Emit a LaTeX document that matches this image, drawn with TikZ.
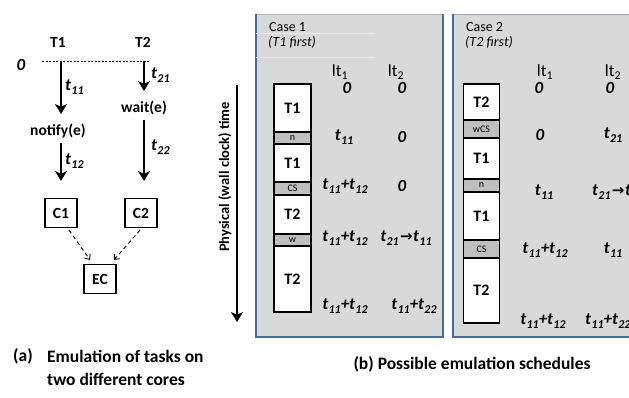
\documentclass[tikz,border=0pt]{standalone}
\usepackage{fontspec}
\setmainfont{Carlito}
\newfontfamily\djv{DejaVu Sans}
\usetikzlibrary{arrows.meta,calc}
\definecolor{panelfill}{HTML}{D9D9D9}
\definecolor{panelline}{HTML}{4A6A99}
\definecolor{seggray}{HTML}{BFBFBF}
\newcommand\tv[1]{t\kern0.02em\raisebox{-0.45ex}{\fontsize{12}{12}\selectfont #1}}
\newcommand\ar{\kern0.08em{\djv\bfseries\fontsize{15}{15}\selectfont →}\kern0.03em}
\tikzset{
  lbl/.style={font=\fontsize{15.5}{15.5}\selectfont\bfseries, inner sep=0pt},
  val/.style={font=\fontsize{17}{17}\selectfont\bfseries\itshape, inner sep=0pt},
  hdr/.style={font=\fontsize{17}{17}\selectfont, inner sep=0pt},
  casetxt/.style={font=\fontsize{14}{14}\selectfont, inner sep=0pt, anchor=west},
  bigarrow/.style={line width=2.6pt, -{Stealth[length=10pt,width=12pt,inset=3pt]}},
  dasharrow/.style={line width=0.9pt, dash pattern=on 4pt off 3pt, -{Straight Barb[length=4pt,width=7pt]}},
  cbox/.style={draw, line width=1.2pt, minimum width=32pt, minimum height=29pt, inner sep=0pt, font=\fontsize{15.5}{15.5}\selectfont\bfseries},
  seg/.style={draw, line width=1.2pt, fill=white, inner sep=0pt, outer sep=0pt, font=\fontsize{16}{16}\selectfont\bfseries},
  gseg/.style={draw, line width=1.2pt, fill=seggray, inner sep=0pt, outer sep=0pt, font=\fontsize{10}{10}\selectfont},
  captxt/.style={font=\fontsize{17.5}{23}\selectfont\bfseries, inner sep=0pt}
}
\begin{document}
\begin{tikzpicture}[x=1pt,y=-1pt]
\useasboundingbox (0,0) rectangle (629,398);
\clip (0,0) rectangle (629,398);
\fill[white] (0,0) rectangle (629,398);

% ---------- left diagram ----------
\node[lbl] (T1) at (58,42) {T1};
\node[lbl] (T2) at (143,42) {T2};
\node[val] (zero) at (21,65) {0};
\coordinate (dl) at (42,61);
\coordinate (dr) at (150,61);
\draw[line width=0.6pt, dash pattern=on 2pt off 1.5pt] (dl) -- (dr);
\coordinate (a1s) at (61,61);
\coordinate (a1e) at (61,114);
\coordinate (b1s) at (144,61);
\coordinate (b1e) at (144,91);
\node[lbl] (notify) at (58,131) {notify(e)};
\node[lbl] (wait) at (144,108) {wait(e)};
\coordinate (a2s) at (61,143);
\coordinate (a2e) at (61,181);
\coordinate (b2s) at (144,120);
\coordinate (b2e) at (144,181);
\draw[bigarrow] (a1s) -- (a1e);
\draw[bigarrow] (b1s) -- (b1e);
\draw[bigarrow] (a2s) -- (a2e);
\draw[bigarrow] (b2s) -- (b2e);
\node[val, anchor=west] (t11l) at (65,87) {\tv{11}};
\node[val, anchor=west] (t21l) at (151,75) {\tv{21}};
\node[val, anchor=west] (t12l) at (65,161) {\tv{12}};
\node[val, anchor=west] (t22l) at (151,147) {\tv{22}};
\node[cbox] (C1) at (61,213) {C1};
\node[cbox] (C2) at (141,213) {C2};
\node[cbox] (EC) at (100,279) {EC};
\draw[dasharrow] ([xshift=8pt,yshift=-2pt]C1.south) -- ([xshift=-10pt,yshift=4pt]EC.north);
\draw[dasharrow] ([xshift=-1pt,yshift=-2pt]C2.south) -- ([xshift=14pt,yshift=4pt]EC.north);

% ---------- time arrow ----------
\coordinate (tas) at (237,85);
\coordinate (tae) at (237,322);
\draw[bigarrow] (tas) -- (tae);
\node[lbl, rotate=90, font=\fontsize{14.5}{14.5}\selectfont\bfseries] (ptime) at (225,177) {Physical (wall clock) time};

% ---------- panel 1 ----------
\fill[panelfill] (256,14) rectangle (443,337);
\draw[gray!55, line width=0.5pt] (256,14) -- (443,14);
\draw[panelline, line width=1.2pt] (256,14) -- (256,337) -- (443,337) -- (443,14);
\draw[white!85!gray, line width=0.6pt] (256,33) -- (375,33);
\draw[white!85!gray, line width=0.6pt] (256,57) -- (375,57);
\node[casetxt] (case1) at (269,27) {Case 1};
\node[casetxt, font=\fontsize{14}{14}\selectfont\itshape] (first1) at (268,42) {(T1 first)};
\node[hdr] (h11) at (340,72) {lt\textsubscript{1}};
\node[hdr] (h12) at (396,72) {lt\textsubscript{2}};

\node[seg, minimum width=37pt, minimum height=48pt] (p1a) at (292.5,108) {T1};
\node[gseg, minimum width=37pt, minimum height=12pt] (p1b) at (292.5,138) {n};
\node[seg, minimum width=37pt, minimum height=38pt] (p1c) at (292.5,163) {T1};
\node[gseg, minimum width=37pt, minimum height=13pt] (p1d) at (292.5,188.5) {CS};
\node[seg, minimum width=37pt, minimum height=39pt] (p1e) at (292.5,214.5) {T2};
\node[gseg, minimum width=37pt, minimum height=12pt] (p1f) at (292.5,240) {w};
\node[seg, minimum width=37pt, minimum height=66pt] (p1g) at (292.5,279) {T2};

\node[val] (v1a1) at (347,88) {0};
\node[val] (v1a2) at (402,88) {0};
\node[val] (v1b1) at (344,137) {\tv{11}};
\node[val] (v1b2) at (402,137) {0};
\node[val] (v1c1) at (345,186) {\tv{11}+\tv{12}};
\node[val] (v1c2) at (402,186) {0};
\node[val] (v1d1) at (345,238) {\tv{11}+\tv{12}};
\node[val] (v1d2) at (406,238) {\tv{21}\ar\tv{11}};
\node[val] (v1e1) at (345,306) {\tv{11}+\tv{12}};
\node[val] (v1e2) at (414,306) {\tv{11}+\tv{22}};

% ---------- panel 2 ----------
\fill[panelfill] (453,14) rectangle (645,337);
\draw[panelline!60!white, line width=0.5pt] (453,14) -- (645,14);
\draw[panelline, line width=1.2pt] (453,14) -- (453,337) -- (645,337);
\node[casetxt] (case2) at (466,27) {Case 2};
\node[casetxt, font=\fontsize{14}{14}\selectfont\itshape] (first2) at (465,42) {(T2 first)};
\node[hdr] (h21) at (545,72) {lt\textsubscript{1}};
\node[hdr] (h22) at (613,72) {lt\textsubscript{2}};

\node[seg, minimum width=36pt, minimum height=36pt] (p2a) at (481.5,102) {T2};
\node[gseg, minimum width=36pt, minimum height=18pt] (p2b) at (481.5,129) {wCS};
\node[seg, minimum width=36pt, minimum height=41pt] (p2c) at (481.5,158.5) {T1};
\node[gseg, minimum width=36pt, minimum height=13pt] (p2d) at (481.5,185.5) {n};
\node[seg, minimum width=36pt, minimum height=48pt] (p2e) at (481.5,216) {T1};
\node[gseg, minimum width=36pt, minimum height=18pt] (p2f) at (481.5,249) {CS};
\node[seg, minimum width=36pt, minimum height=65pt] (p2g) at (481.5,290.5) {T2};

\node[val] (v2a1) at (539,88) {0};
\node[val] (v2a2) at (610,88) {0};
\node[val] (v2b1) at (540,135) {0};
\node[val] (v2b2) at (613,135) {\tv{21}};
\node[val] (v2c1) at (544,192) {\tv{11}};
\node[val, anchor=west] (v2c2) at (592,192) {\tv{21}\ar\tv{11}};
\node[val] (v2d1) at (545,250) {\tv{11}+\tv{12}};
\node[val] (v2d2) at (613,250) {\tv{11}};
\node[val] (v2e1) at (543,321) {\tv{11}+\tv{12}};
\node[val, anchor=west] (v2e2) at (585,321) {\tv{11}+\tv{22}};

% ---------- captions ----------
\node[captxt, anchor=west] (capa) at (13,356) {(a)};
\node[captxt, anchor=west, align=left] (capa2) at (47,367.5) {Emulation of tasks on\\two different cores};
\node[captxt] (capb) at (472,364) {(b) Possible emulation schedules};
\end{tikzpicture}
\end{document}
